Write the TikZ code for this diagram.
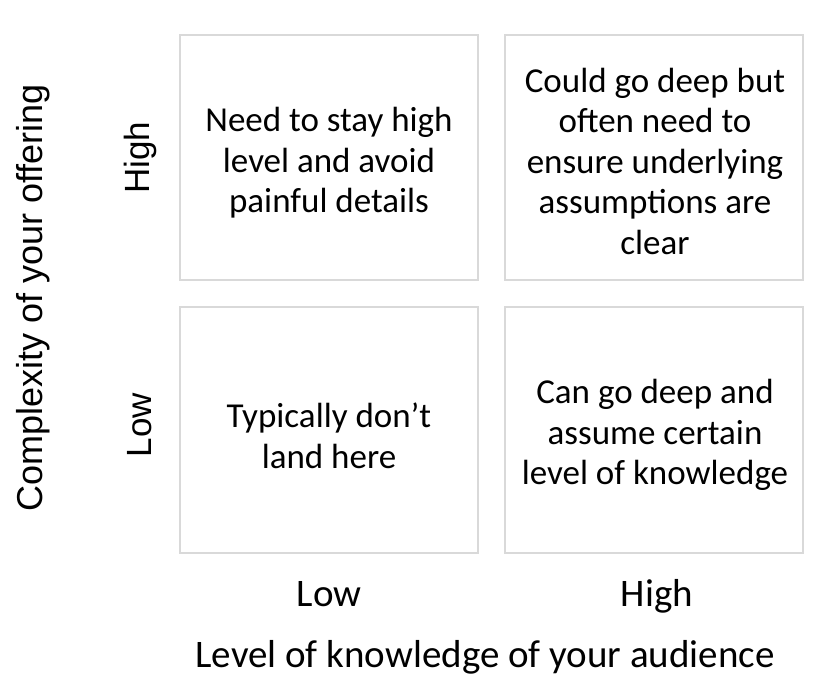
\documentclass[tikz,border=0pt]{standalone}
\usepackage{fontspec}
\setmainfont{Carlito}
\newfontfamily\arialfont{Liberation Sans}
\usepackage{tikz}

\begin{document}
\begin{tikzpicture}[x=1pt,y=-1pt,
		quad/.style={draw=black!15, line width=1.2pt},
		cell/.style={align=center, font=\fontsize{35}{40.5}\selectfont, inner sep=0pt},
		axislabel/.style={font=\fontsize{39}{46}\selectfont, inner sep=0pt, anchor=base},
		sidelabel/.style={font=\arialfont\fontsize{35}{40}\selectfont, inner sep=0pt, rotate=90}]
			\useasboundingbox (0,0) rectangle (834,682);
			% the four quadrants
			\draw[quad] (180,35) rectangle (478,280);
			\draw[quad] (505,35) rectangle (803,280);
			\draw[quad] (180,307) rectangle (478,553);
			\draw[quad] (505,307) rectangle (803,553);
			\node[cell](hilo) at (329,163){Need to stay high\\level and avoid\\painful details};
			\node[cell](hihi) at (655,161){Could go deep but\\often need to\\ensure underlying\\assumptions are\\clear};
			\node[cell](lolo) at (329,436){Typically don't\\land here};
			\node[cell](lohi) at (655,435){Can go deep and\\assume certain\\level of knowledge};
			% axes
			\node[axislabel](xlow) at (329,606){Low};
			\node[axislabel](xhigh) at (657,606){High};
			\node[axislabel](xtitle) at (485,667){Level of knowledge of your audience};
			\node[sidelabel](yhigh) at (140,158){High};
			\node[sidelabel](ylow) at (140,425){Low};
			\node[sidelabel, font=\arialfont\fontsize{36}{40}\selectfont](ytitle) at (33,298){Complexity of your offering};
\end{tikzpicture}
\end{document}
